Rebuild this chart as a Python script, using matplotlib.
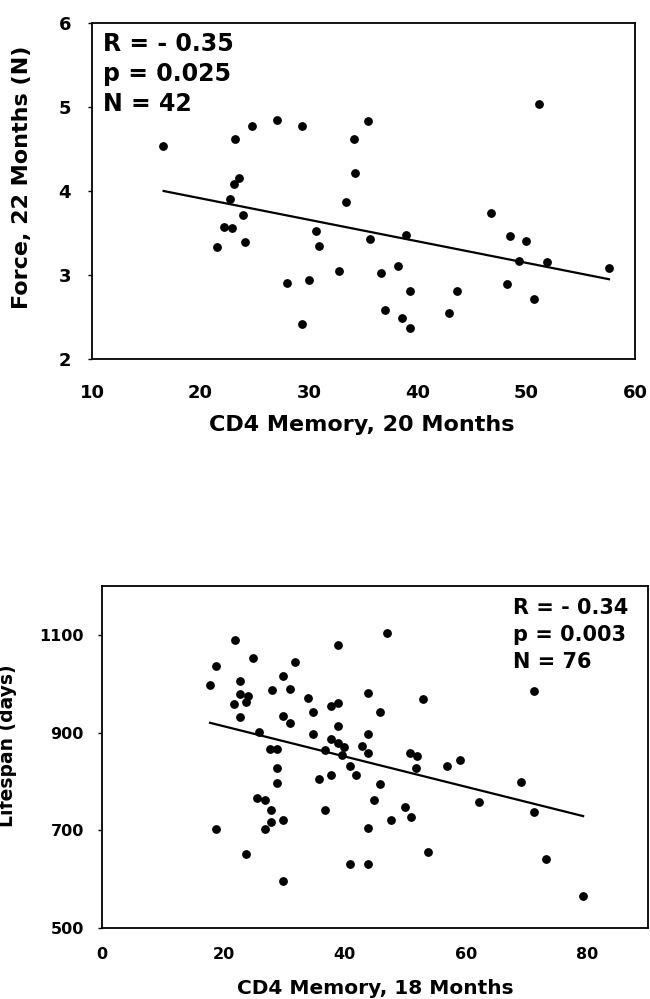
import numpy as np
import matplotlib
matplotlib.use("Agg")
import matplotlib.pyplot as plt

plt.rcParams['font.family'] = ['DejaVu Sans']
plt.rcParams['font.weight'] = 'bold'

# top panel: CD4 memory at 20 months vs force at 22 months
cd4_20 = [16.5, 23.2, 24.7, 27.0, 29.3, 34.1, 34.2, 23.5, 23.1, 22.7, 33.4,
          23.9, 22.2, 22.9, 21.5, 24.1, 30.6, 30.9, 32.7, 28.0, 30.0, 29.3,
          35.4, 51.2, 46.7, 48.5, 50.0, 35.6, 38.9, 49.3, 51.9, 57.6, 36.6,
          38.2, 39.3, 43.6, 48.2, 50.7, 37.0, 38.5, 39.3, 42.9]
force_22 = [4.53, 4.62, 4.77, 4.85, 4.77, 4.62, 4.21, 4.15, 4.08, 3.90, 3.87,
            3.71, 3.57, 3.56, 3.33, 3.39, 3.52, 3.35, 3.05, 2.90, 2.94, 2.42,
            4.83, 5.04, 3.74, 3.47, 3.40, 3.43, 3.48, 3.17, 3.16, 3.08, 3.02,
            3.11, 2.81, 2.81, 2.89, 2.72, 2.58, 2.49, 2.37, 2.55]
fit1_x = [16.6, 57.6]
fit1_y = [4.00, 2.95]
stats1 = ["R = - 0.35", "p = 0.025", "N = 42"]

# bottom panel: CD4 memory at 18 months vs lifespan
cd4_18 = [17.8, 18.8, 18.8, 21.9, 21.8, 22.8, 22.8, 22.8, 24.0, 23.8, 23.8,
          24.9, 25.8, 25.6, 26.9, 26.9, 27.8, 27.8, 28.0, 27.7, 28.9, 28.8,
          28.8, 29.8, 29.9, 29.9, 29.8, 30.9, 31.0, 31.8, 34.0, 34.8, 34.8,
          35.8, 36.8, 36.8, 38.9, 46.9, 37.8, 38.9, 38.9, 37.8, 38.9, 39.8,
          39.5, 40.9, 41.8, 37.8, 43.9, 45.8, 43.9, 42.8, 43.9, 45.8, 44.9,
          43.9, 40.9, 43.9, 47.7, 49.9, 50.9, 50.7, 51.9, 51.8, 52.9, 53.8,
          56.9, 59.0, 62.2, 69.1, 71.2, 71.2, 73.1, 79.3]
lifespan = [998, 1037, 702, 1090, 958, 1006, 979, 931, 975, 963, 652,
            1052, 902, 766, 762, 702, 742, 716, 988, 866, 866, 828,
            796, 720, 597, 1016, 933, 919, 990, 1045, 970, 943, 897,
            805, 742, 865, 1080, 1104, 954, 961, 914, 886, 878, 870,
            854, 832, 813, 813, 982, 942, 897, 873, 858, 795, 762,
            704, 631, 631, 721, 748, 727, 859, 852, 828, 968, 656,
            832, 843, 757, 798, 986, 738, 642, 566]
fit2_x = [17.8, 79.3]
fit2_y = [920, 729]
stats2 = ["R = - 0.34", "p = 0.003", "N = 76"]

fig = plt.figure(figsize=(6.5, 9.99), dpi=100)

ax1 = fig.add_axes([0.1415, 0.6406, 0.8355, 0.3364])
ax1.scatter(cd4_20, force_22, s=28, color='black', zorder=3)
ax1.plot(fit1_x, fit1_y, color='black', lw=1.6)
ax1.set_xlim(10, 60)
ax1.set_ylim(2, 6)
ax1.set_xticks([10, 20, 30, 40, 50, 60])
ax1.set_yticks([2, 3, 4, 5, 6])
ax1.tick_params(direction='out', length=3, width=1, labelsize=13)
ax1.tick_params(axis='x', pad=18, length=0)
ax1.tick_params(axis='y', pad=12)

ax2 = fig.add_axes([0.157, 0.0711, 0.840, 0.3423])
ax2.scatter(cd4_18, lifespan, s=28, color='black', zorder=3)
ax2.plot(fit2_x, fit2_y, color='black', lw=1.6)
ax2.set_xlim(0, 90)
ax2.set_ylim(500, 1200)
ax2.set_xticks([0, 20, 40, 60, 80])
ax2.set_yticks([500, 700, 900, 1100])
ax2.tick_params(direction='out', length=3, width=1, labelsize=11.5)
ax2.tick_params(axis='x', pad=14, length=0)
ax2.tick_params(axis='y', pad=10)

for ax in (ax1, ax2):
    for sp in ax.spines.values():
        sp.set_linewidth(1.3)

fig.text(0.034, 0.823, "Force, 22 Months (N)", rotation=90, ha='center',
         va='center', fontsize=16)
fig.text(0.557, 0.575, "CD4 Memory, 20 Months", ha='center', va='center',
         fontsize=16)
fig.text(0.012, 0.254, "Lifespan (days)", rotation=90, ha='center',
         va='center', fontsize=13.5)
fig.text(0.577, 0.011, "CD4 Memory, 18 Months", ha='center', va='center',
         fontsize=14.5)

for i, s in enumerate(stats1):
    fig.text(103 / 650, 1 - (44 + 30 * i) / 999, s, ha='left', va='center',
             fontsize=17)
for i, s in enumerate(stats2):
    fig.text(513 / 650, 1 - (608 + 27 * i) / 999, s, ha='left', va='center',
             fontsize=15)

fig.savefig("out.png", dpi=100)
